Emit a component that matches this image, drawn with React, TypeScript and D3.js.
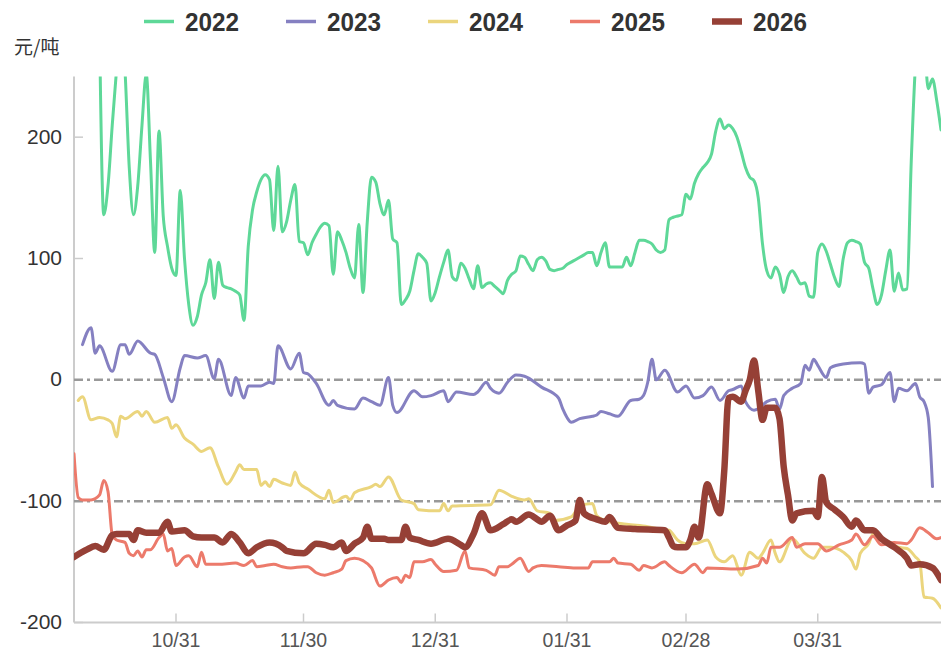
import React from "react";
import * as d3 from "d3";

// x values are day offsets from 2025-10-07 (daily data), values in 元/吨
const seriesNames = ["2022", "2023", "2024", "2025", "2026"];
const seriesColors = ["#5ed898", "#8580c1", "#ebd57d", "#ec7a6b", "#964036"];
const seriesWidths = [3, 3, 3, 3, 6.5];

const s2022: [number, number][] = [[6,290],[7,136],[8,160],[9,210],[10,255],[11,300],[12,255],[13,175],[14,136],[15,160],[16,210],[17,252],[18,180],[19,105],[20,205],[21,135],[22,110],[23,92],[24,86],[25,156],[26,100],[27,62],[28,45],[29,52],[30,70],[31,80],[32,99],[33,67],[34,97],[35,78],[36,76],[37,75],[38,73],[39,70],[40,49],[41,110],[42,140],[43,155],[44,165],[45,169],[46,165],[47,123],[48,176],[49,122],[50,130],[51,148],[52,161],[53,114],[54,113],[55,103],[56,113],[57,120],[58,126],[59,129],[60,127],[61,87],[62,122],[63,115],[64,105],[65,92],[66,84],[67,128],[68,72],[69,130],[70,167],[71,163],[72,145],[73,136],[74,148],[75,116],[76,113],[77,62],[78,66],[79,73],[80,90],[81,104],[82,101],[83,96],[84,65],[85,72],[86,85],[87,97],[88,107],[89,85],[90,82],[91,96],[92,92],[93,83],[94,75],[95,94],[96,76],[97,79],[98,80],[99,77],[100,74],[101,71],[102,82],[103,87],[104,90],[105,102],[106,101],[107,95],[108,90],[109,99],[110,101],[111,98],[112,91],[113,90],[114,91],[115,92],[116,95],[117,97],[118,99],[119,101],[120,103],[121,105],[122,105],[123,94],[124,105],[125,113],[126,93],[127,93],[128,93],[129,93],[130,101],[131,94],[132,105],[133,115],[134,115],[135,114],[136,112],[137,107],[138,105],[139,107],[140,132],[141,134],[142,135],[143,136],[144,153],[145,149],[146,162],[147,170],[148,175],[149,179],[150,186],[151,205],[152,215],[153,207],[154,210],[155,207],[156,200],[157,188],[158,175],[159,167],[160,164],[161,150],[162,112],[163,90],[164,84],[165,93],[166,87],[167,72],[168,85],[169,90],[170,85],[171,79],[172,80],[173,69],[174,68],[175,105],[176,112],[177,106],[178,95],[179,84],[180,77],[181,100],[182,113],[183,115],[184,114],[185,112],[186,97],[187,92],[188,75],[189,62],[190,70],[191,90],[192,107],[193,73],[194,88],[195,74],[196,75],[197,180],[198,260],[199,290],[200,280],[201,240],[202,248],[203,230],[204,206]];

const s2023: [number, number][] = [[2,29],[4,43],[5,22],[6,28],[9,7],[11,29],[12,29],[13,21],[15,32],[18,22],[19,21],[21,2],[23,-18],[25,10],[26,20],[29,18],[31,20],[33,1],[34,17],[37,-13],[38,2],[40,-15],[41,-5],[44,-5],[46,-2],[47,-3],[48,28],[51,9],[53,22],[54,6],[55,5],[57,-3],[60,-21],[61,-17],[62,-21],[66,-24],[68,-15],[70,-18],[72,-21],[74,2],[75,-21],[76,-27],[80,-9],[82,-14],[84,-13],[87,-9],[88,-18],[90,-10],[94,-12],[95,-10],[97,-2],[98,-7],[100,-11],[102,-2],[104,4],[106,3],[110,-6],[114,-15],[115,-24],[116,-31],[117,-35],[119,-32],[122,-30],[123,-29],[124,-26],[126,-28],[128,-30],[131,-17],[133,-16],[134,-13],[135,-2],[136,17],[137,0],[139,8],[142,-10],[144,-5],[146,-15],[148,-13],[150,-6],[152,-17],[154,-9],[155,-8],[157,-5],[158,-18],[160,-25],[161,-24],[163,-18],[165,-16],[166,-24],[167,-13],[169,-7],[171,-3],[172,12],[173,8],[174,17],[175,12],[177,2],[178,10],[181,13],[185,14],[186,13],[187,-11],[188,-6],[190,-4],[192,6],[193,-18],[194,-7],[196,-9],[198,-3],[199,-14],[200,-18],[201,-31],[202,-88]];

const s2024: [number, number][] = [[1,-17],[2,-14],[4,-33],[6,-31],[8,-33],[9,-36],[10,-47],[11,-30],[12,-32],[15,-26],[16,-30],[17,-26],[19,-35],[22,-31],[23,-40],[24,-37],[26,-48],[28,-53],[30,-59],[32,-56],[34,-72],[36,-86],[38,-76],[39,-70],[40,-74],[43,-74],[44,-87],[45,-84],[46,-88],[47,-82],[49,-85],[51,-87],[52,-76],[53,-85],[55,-90],[59,-98],[60,-91],[61,-101],[64,-96],[65,-99],[66,-93],[70,-88],[71,-86],[72,-88],[74,-80],[77,-99],[80,-102],[81,-107],[86,-108],[87,-102],[88,-108],[89,-104],[98,-103],[100,-91],[103,-96],[106,-99],[107,-98],[109,-108],[112,-110],[113,-116],[117,-113],[119,-104],[122,-102],[123,-112],[125,-116],[130,-119],[135,-121],[138,-123],[140,-124],[142,-132],[144,-135],[146,-135],[149,-132],[151,-146],[153,-150],[155,-145],[157,-161],[159,-142],[161,-147],[162,-143],[164,-132],[165,-143],[166,-150],[169,-131],[172,-143],[174,-147],[176,-138],[178,-138],[181,-142],[183,-149],[184,-156],[185,-143],[187,-135],[188,-127],[190,-131],[192,-134],[194,-138],[196,-139],[198,-146],[199,-150],[200,-179],[202,-180],[204,-188]];

const s2025: [number, number][] = [[0,-61],[1,-97],[2,-99],[4,-99],[6,-95],[7,-83],[8,-92],[9,-128],[10,-132],[12,-134],[13,-143],[14,-145],[15,-141],[16,-146],[17,-140],[18,-140],[20,-130],[21,-127],[22,-141],[23,-139],[24,-153],[26,-146],[27,-145],[29,-154],[30,-142],[31,-152],[34,-152],[38,-151],[40,-153],[42,-149],[43,-154],[45,-153],[47,-152],[49,-154],[51,-155],[54,-154],[55,-154],[57,-159],[59,-161],[61,-159],[63,-156],[64,-149],[66,-147],[68,-149],[70,-155],[72,-170],[74,-165],[76,-163],[77,-167],[78,-161],[79,-163],[80,-150],[82,-150],[84,-148],[85,-152],[87,-158],[90,-157],[92,-141],[93,-155],[97,-157],[99,-161],[100,-154],[102,-154],[103,-152],[105,-147],[107,-158],[108,-155],[110,-153],[114,-154],[118,-155],[121,-155],[122,-150],[126,-150],[127,-147],[128,-151],[131,-152],[133,-157],[134,-153],[136,-155],[139,-150],[140,-153],[143,-159],[146,-152],[148,-159],[149,-155],[156,-156],[161,-153],[162,-147],[163,-151],[164,-138],[166,-138],[169,-130],[170,-138],[172,-135],[175,-135],[177,-141],[180,-136],[183,-132],[184,-127],[186,-136],[188,-129],[190,-136],[193,-134],[196,-135],[197,-132],[199,-122],[201,-126],[203,-131],[204,-130]];

const s2026: [number, number][] = [[0,-146],[3,-140],[5,-137],[7,-140],[9,-128],[10,-127],[13,-127],[14,-132],[15,-124],[17,-126],[20,-126],[22,-117],[23,-125],[26,-124],[28,-129],[30,-130],[33,-130],[35,-134],[37,-127],[39,-134],[41,-143],[43,-138],[46,-134],[49,-138],[50,-141],[54,-143],[57,-135],[59,-136],[61,-138],[63,-134],[64,-141],[66,-135],[68,-130],[69,-121],[70,-131],[73,-131],[74,-132],[77,-132],[78,-121],[79,-130],[81,-132],[84,-135],[88,-131],[91,-136],[92,-138],[94,-127],[96,-110],[98,-124],[101,-119],[103,-115],[104,-117],[107,-111],[109,-115],[110,-117],[112,-112],[114,-124],[116,-120],[118,-116],[119,-99],[120,-110],[123,-115],[125,-117],[126,-113],[128,-122],[132,-123],[139,-124],[140,-130],[141,-137],[142,-138],[144,-138],[145,-132],[146,-121],[147,-130],[149,-86],[150,-94],[152,-110],[153,-75],[154,-15],[155,-14],[157,-18],[158,-9],[159,0],[160,16],[161,-9],[162,-33],[163,-23],[165,-23],[166,-32],[167,-72],[168,-95],[169,-116],[170,-110],[174,-108],[175,-113],[176,-80],[177,-101],[179,-107],[181,-113],[183,-121],[184,-116],[186,-124],[188,-124],[190,-131],[193,-138],[196,-147],[197,-153],[199,-152],[202,-155],[204,-165]];

const seriesData = [s2022, s2023, s2024, s2025, s2026];

const xTickLabels = ["10/31", "11/30", "12/31", "01/31", "02/28", "03/31"];
const yTicks = [-200, -100, 0, 100, 200];
const refLines = [0, -100];
const unitLabel = "元/吨";

const W = 941;
const H = 652;
const START = new Date(Date.UTC(2025, 9, 7));
const END = d3.utcDay.offset(START, 205);
const PLOT = { left: 74, right: 74 + 205 * 4.25, top: 76.5, bottom: 622.5 };

const x = d3.scaleUtc().domain([START, END]).range([PLOT.left, PLOT.right]);
const y = d3.scaleLinear().domain([-200, 250]).range([PLOT.bottom, PLOT.top]);

const parseTick = (s: string) => {
  const m = +s.slice(0, 2);
  const d = +s.slice(3, 5);
  return new Date(Date.UTC(m >= 10 ? 2025 : 2026, m - 1, d));
};

const line = d3
  .line<[number, number]>()
  .x((p) => x(d3.utcDay.offset(START, p[0])))
  .y((p) => y(p[1]))
  .curve(d3.curveMonotoneX);

const FONT = "'Liberation Sans', Arial, Helvetica, sans-serif";

export default function App() {
  return (
    <svg
      width={W}
      height={H}
      style={{ position: "absolute", left: 0, top: 0, display: "block", background: "#fff" }}
    >
      <defs>
        <clipPath id="plotClip">
          <rect x={PLOT.left} y={PLOT.top} width={W - PLOT.left} height={PLOT.bottom - PLOT.top} />
        </clipPath>
      </defs>

      {/* legend */}
      {seriesNames.map((name, i) => {
        const lx = 144 + i * 142;
        return (
          <g key={name}>
            <line
              x1={lx}
              x2={lx + 30}
              y1={21.5}
              y2={21.5}
              stroke={seriesColors[i]}
              strokeWidth={i === 4 ? 6.5 : 3.5}
            />
            <text
              x={lx + 41}
              y={30.5}
              fontFamily={FONT}
              fontWeight="bold"
              fontSize={26}
              fill="#333"
              textLength={54}
              lengthAdjust="spacingAndGlyphs"
            >
              {name}
            </text>
          </g>
        );
      })}

      {/* unit label */}
      <text x={14} y={54} fontFamily="'Noto Sans CJK SC', sans-serif" fontSize={19} fill="#333">
        {unitLabel}
      </text>

      {/* y axis */}
      <line x1={PLOT.left} x2={PLOT.left} y1={PLOT.top} y2={PLOT.bottom} stroke="#ccc" strokeWidth={2} />
      {yTicks.map((t) => (
        <g key={t}>
          <line x1={PLOT.left} x2={PLOT.left + 9} y1={y(t)} y2={y(t)} stroke="#ccc" strokeWidth={1.5} />
          <text x={62} y={y(t) + 6.5} textAnchor="end" fontFamily={FONT} fontSize={21} fill="#333">
            {t}
          </text>
        </g>
      ))}

      {/* x axis */}
      <line x1={PLOT.left} x2={W} y1={PLOT.bottom} y2={PLOT.bottom} stroke="#ccc" strokeWidth={2} />
      {xTickLabels.map((lab) => {
        const tx = x(parseTick(lab));
        return (
          <g key={lab}>
            <line x1={tx} x2={tx} y1={PLOT.bottom} y2={PLOT.bottom - 9} stroke="#ccc" strokeWidth={1.5} />
            <text x={tx} y={647} textAnchor="middle" fontFamily={FONT} fontSize={19.5} fill="#555">
              {lab}
            </text>
          </g>
        );
      })}

      {/* reference lines */}
      {refLines.map((v) => (
        <line
          key={v}
          x1={PLOT.left}
          x2={W}
          y1={y(v)}
          y2={y(v)}
          stroke="#999"
          strokeWidth={2.5}
          strokeDasharray="9,4,3,4"
        />
      ))}

      {/* series */}
      <g clipPath="url(#plotClip)">
        {seriesData.map((s, i) => (
          <path
            key={seriesNames[i]}
            d={line(s) || ""}
            fill="none"
            stroke={seriesColors[i]}
            strokeWidth={seriesWidths[i]}
            strokeLinejoin="round"
            strokeLinecap="round"
          />
        ))}
      </g>
    </svg>
  );
}
